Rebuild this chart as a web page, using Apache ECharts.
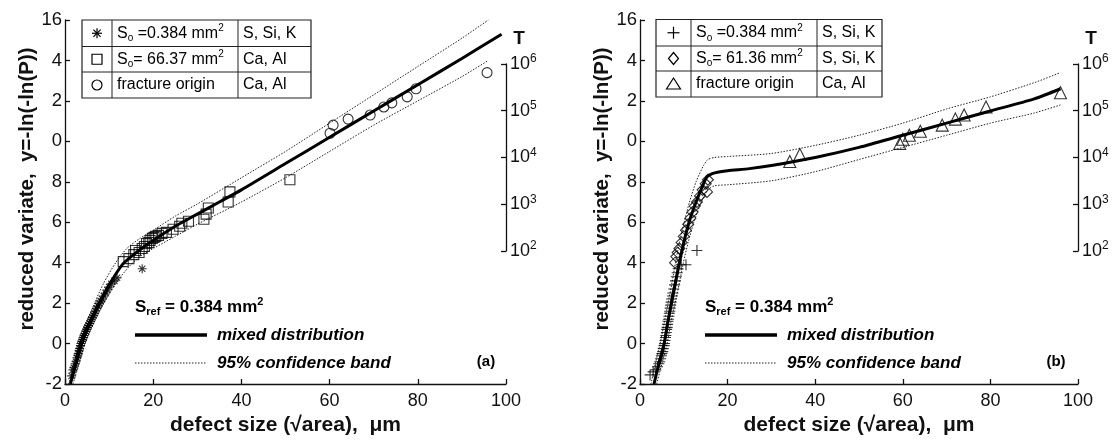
<!DOCTYPE html>
<html><head><meta charset="utf-8">
<script src="https://cdn.jsdelivr.net/npm/echarts@6/dist/echarts.min.js"></script>
<style>html,body{margin:0;padding:0;background:#fff}#c{width:1115px;height:443px}</style>
</head><body><div id="c"></div>
<script>
// ---------- DATA ----------
const yTickValues = [-2, 0, 2, 4, 6, 8, 10, 12, 14, 16];
const yTickLabels = ['-2', '0', '2', '4', '6', '8', '0', '2', '4', '16'];
const xTickValues = [0, 20, 40, 60, 80, 100];

// panel (a)
const aStar = [[1.5,-1.6],[1.8,-1.3],[2.0,-1.2],[2.3,-1.0],[2.5,-0.9],[2.7,-0.7],[2.9,-0.6],[3.0,-0.5],[3.2,-0.35],[3.3,-0.25],[3.5,-0.1],[3.6,0.0],[3.8,0.1],[4.0,0.2],[4.1,0.3],[4.3,0.4],[4.5,0.5],[4.7,0.6],[4.9,0.7],[5.1,0.8],[5.3,0.9],[5.6,1.0],[5.8,1.1],[6.0,1.2],[6.2,1.3],[6.5,1.4],[6.7,1.5],[6.9,1.6],[7.2,1.75],[7.5,1.85],[7.8,2.0],[8.1,2.1],[8.4,2.2],[8.8,2.35],[9.2,2.5],[9.6,2.65],[10.0,2.8],[10.5,2.95],[11.2,3.1],[11.8,3.25],[17.5,3.7]];
const aSquare = [[13.2,4.05],[14.5,4.2],[15.6,4.4],[16.0,4.6],[16.8,4.5],[17.5,4.7],[18.0,4.8],[18.5,4.95],[19.0,5.0],[19.3,5.1],[19.8,5.2],[20.2,5.25],[20.6,5.3],[21.2,5.35],[22.0,5.45],[23.0,5.5],[24.5,5.65],[26.0,5.8],[26.5,5.95],[28.0,6.05],[31.5,6.15],[32.0,6.4],[32.5,6.7],[37.0,7.0],[37.4,7.5],[51.0,8.1]];
const aCircle = [[60.1,10.4],[60.8,10.8],[64.2,11.1],[69.2,11.3],[72.3,11.7],[74.1,11.9],[77.6,12.2],[79.6,12.6],[95.7,13.4]];
const aMixed = [[1.2,-2],[2.5,-1],[3.8,0],[5.6,1],[7.8,2],[10.3,3],[13,3.9],[15,4.3],[18,4.8],[20,5.1],[25,5.8],[30,6.4],[35,7.0],[40,7.6],[50,8.9],[60,10.2],[70,11.5],[80,12.8],[90,14.1],[99,15.3]];
const aUpper = [[0.8,-2],[2,-1.2],[3.2,0],[4.8,1],[6.7,2],[8.8,3],[11.5,4.0],[14,4.7],[17,5.2],[20,5.6],[25,6.3],[30,6.9],[40,8.2],[50,9.5],[60,10.9],[70,12.3],[80,13.7],[90,15.1],[96,16.0]];
const aLower = [[1.8,-2],[3.2,-1],[4.6,0],[6.5,1],[8.8,2],[11.6,3],[14.5,3.8],[17,4.3],[20,4.7],[25,5.3],[30,5.9],[40,7.0],[50,8.2],[60,9.5],[70,10.8],[80,12.0],[90,13.2],[96,14.0]];

// panel (b)
const bPlus = [[2.3,-1.55],[3.0,-1.4],[3.6,-1.3],[4.0,-1.15],[4.3,-1.0],[4.5,-0.9],[4.7,-0.75],[4.9,-0.6],[5.0,-0.5],[5.2,-0.4],[5.3,-0.25],[5.5,-0.1],[5.6,0.0],[5.7,0.15],[5.8,0.3],[5.9,0.4],[6.0,0.55],[6.1,0.7],[6.2,0.8],[6.3,0.95],[6.4,1.1],[6.5,1.2],[6.6,1.35],[6.7,1.5],[6.8,1.6],[6.9,1.75],[7.0,1.9],[7.1,2.05],[7.2,2.2],[7.4,2.35],[7.5,2.5],[7.7,2.7],[7.9,2.9],[8.1,3.1],[8.3,3.3],[8.5,3.5],[8.7,3.7],[9.4,3.9],[10.5,3.9],[13.0,4.6]];
const bDiamond = [[8.0,4.0],[8.3,4.3],[8.6,4.5],[9.0,4.7],[9.5,5.0],[10.0,5.3],[10.5,5.6],[11.0,5.9],[11.5,6.2],[12.0,6.5],[12.5,6.8],[13.0,7.0],[13.7,7.3],[14.3,7.6],[15.0,7.9],[15.5,8.1],[15.3,7.5]];
const bTriangle = [[34.2,9.0],[36.5,9.35],[59.3,9.9],[60.0,10.1],[61.5,10.3],[64.0,10.5],[69.0,10.8],[72.0,11.1],[74.0,11.3],[79.0,11.7],[96.0,12.4]];
const bMixed = [[3.2,-2],[4.3,-1],[5.5,0],[6.3,1],[7.2,2],[8.1,3],[9.0,4],[10.0,5],[11.2,6],[12.8,7],[14.3,7.8],[15.3,8.25],[16.5,8.4],[18,8.48],[20,8.55],[25,8.65],[30,8.8],[40,9.2],[50,9.7],[60,10.3],[70,10.9],[80,11.5],[90,12.1],[96,12.6]];
const bUpper = [[2.5,-2],[3.5,-1],[4.6,0],[5.5,1],[6.4,2],[7.3,3],[8.1,4],[9.0,5],[10.1,6],[11.3,7],[12.8,8],[14.5,8.8],[15.5,9.1],[17,9.2],[20,9.25],[30,9.4],[40,9.8],[50,10.3],[60,10.9],[70,11.6],[80,12.2],[90,12.9],[96,13.4]];
const bLower = [[3.8,-2],[5.0,-1],[6.2,0],[7.0,1],[8.0,2],[9.0,3],[9.9,4],[11,5],[12.3,6],[14,7],[15.5,7.6],[17,7.8],[20,7.85],[30,8.05],[40,8.5],[50,9.1],[60,9.7],[70,10.3],[80,10.9],[90,11.4],[96,11.8]];

const tTickExp = [2, 3, 4, 5, 6];

// ---------- CHART ----------
const FONT = '"Liberation Sans", Arial, sans-serif';
const chart = echarts.init(document.getElementById('c'), null, {renderer: 'canvas'});

const AXC = '#111';
function xAx(gi) {
  return {
    gridIndex: gi, type: 'value', min: 0, max: 100, interval: 20,
    name: 'defect size (\u221Aarea),  \u03BCm', nameLocation: 'middle', nameGap: 31,
    nameTextStyle: {fontFamily: FONT, fontSize: 21, fontWeight: 'bold', color: AXC},
    axisLine: {show: true, onZero: false, lineStyle: {color: AXC, width: 1.3}},
    axisTick: {show: true, inside: true, length: 5, lineStyle: {color: AXC, width: 1.3}},
    axisLabel: {fontFamily: FONT, fontSize: 18, color: AXC, margin: 8},
    splitLine: {show: false}
  };
}
function yAx(gi) {
  return {
    gridIndex: gi, type: 'value', min: -2, max: 16, interval: 2,
    name: 'reduced variate,  y=-ln(-ln(P))', nameLocation: 'middle', nameGap: 23,
    nameTextStyle: {fontFamily: FONT, fontSize: 20.5, fontWeight: 'bold', color: AXC, padding: [0, 0, 0, 26]},
    axisLine: {show: true, onZero: false, lineStyle: {color: AXC, width: 1.3}},
    axisTick: {show: true, inside: true, length: 5, lineStyle: {color: AXC, width: 1.3}},
    axisLabel: {fontFamily: FONT, fontSize: 18.5, color: AXC, margin: 3,
      formatter: v => { const i = yTickValues.indexOf(Math.round(v)); return i >= 0 ? yTickLabels[i] : ''; }},
    splitLine: {show: false}
  };
}
function hiddenX(gi) { return {gridIndex: gi, type: 'value', min: 0, max: 1, show: false}; }
function tAx(gi) {
  return {
    gridIndex: gi, type: 'log', logBase: 10, min: Math.pow(10, tTickExp[0]), max: Math.pow(10, tTickExp[tTickExp.length - 1]),
    position: 'right', name: 'T', nameLocation: 'end', nameGap: 16,
    nameTextStyle: {fontFamily: FONT, fontSize: 19, fontWeight: 'bold', color: AXC, padding: [0, 0, 0, 26]},
    axisLine: {show: true, onZero: false, lineStyle: {color: AXC, width: 1.3}},
    axisTick: {show: true, inside: true, length: 5, lineStyle: {color: AXC, width: 1.3}},
    axisLabel: {margin: 4, formatter: v => '{b|10}{s|' + Math.round(Math.log10(v)) + '}',
      rich: {b: {fontFamily: FONT, fontSize: 18, color: AXC, lineHeight: 22},
             s: {fontFamily: FONT, fontSize: 12, color: AXC, lineHeight: 11, verticalAlign: 'top'}}},
    splitLine: {show: false}
  };
}

const lineSolid = {color: '#000', width: 3};
const lineDot = {color: '#222', width: 1, type: [1.5, 1.5]};
const hollow = {color: 'rgba(0,0,0,0)', borderColor: '#000', borderWidth: 1.1};
const STAR = 'path://M5,0L5,10M0,5L10,5M1.5,1.5L8.5,8.5M8.5,1.5L1.5,8.5';
const PLUS = 'path://M5,0L5,10M0,5L10,5';

function ln(data, xi, style, z) {
  return {type: 'line', xAxisIndex: xi, yAxisIndex: xi, data: data, showSymbol: false, smooth: 0.25,
          lineStyle: style, z: z, silent: true, clip: true};
}
function sc(data, xi, sym, size) {
  return {type: 'scatter', xAxisIndex: xi, yAxisIndex: xi, data: data, symbol: sym, symbolSize: size,
          itemStyle: hollow, z: 3, silent: true};
}

// legend tables & annotations
function richLbl(size, bold) {
  const fw = bold ? 'bold' : 'normal';
  return {
    n: {fontFamily: FONT, fontSize: size, fontWeight: fw, color: '#000', lineHeight: size + 4},
    sub: {fontFamily: FONT, fontSize: Math.round(size * 0.65), fontWeight: fw, color: '#000', lineHeight: 10, verticalAlign: 'bottom'},
    sup: {fontFamily: FONT, fontSize: Math.round(size * 0.65), fontWeight: fw, color: '#000', lineHeight: 10, verticalAlign: 'top'}
  };
}
function legendTable(x0, x1, x2, x3, y0, y1, y2, y3, rows) {
  const st = {stroke: '#222', lineWidth: 1, fill: null};
  const ch = [
    {type: 'rect', shape: {x: x0, y: y0, width: x3 - x0, height: y3 - y0}, style: {stroke: '#222', lineWidth: 1.2, fill: '#fff'}},
    {type: 'line', shape: {x1: x1, y1: y0, x2: x1, y2: y3}, style: st},
    {type: 'line', shape: {x1: x2, y1: y0, x2: x2, y2: y3}, style: st},
    {type: 'line', shape: {x1: x0, y1: y1, x2: x3, y2: y1}, style: st},
    {type: 'line', shape: {x1: x0, y1: y2, x2: x3, y2: y2}, style: st}
  ];
  const ys = [(y0 + y1) / 2, (y1 + y2) / 2, (y2 + y3) / 2];
  const cx = (x0 + x1) / 2;
  rows.forEach((r, i) => {
    const cy = ys[i];
    const s = 5;
    const sym = {stroke: '#000', lineWidth: 1.2, fill: null};
    if (r.sym === 'star') {
      ch.push({type: 'line', shape: {x1: cx - s, y1: cy, x2: cx + s, y2: cy}, style: sym});
      ch.push({type: 'line', shape: {x1: cx, y1: cy - s, x2: cx, y2: cy + s}, style: sym});
      ch.push({type: 'line', shape: {x1: cx - 3.6, y1: cy - 3.6, x2: cx + 3.6, y2: cy + 3.6}, style: sym});
      ch.push({type: 'line', shape: {x1: cx + 3.6, y1: cy - 3.6, x2: cx - 3.6, y2: cy + 3.6}, style: sym});
    } else if (r.sym === 'plus') {
      ch.push({type: 'line', shape: {x1: cx - s - 1, y1: cy, x2: cx + s + 1, y2: cy}, style: sym});
      ch.push({type: 'line', shape: {x1: cx, y1: cy - s - 1, x2: cx, y2: cy + s + 1}, style: sym});
    } else if (r.sym === 'square') {
      ch.push({type: 'rect', shape: {x: cx - 5, y: cy - 5, width: 10, height: 10}, style: sym});
    } else if (r.sym === 'circle') {
      ch.push({type: 'circle', shape: {cx: cx, cy: cy, r: 5}, style: sym});
    } else if (r.sym === 'diamond') {
      ch.push({type: 'polygon', shape: {points: [[cx, cy - 6], [cx + 5, cy], [cx, cy + 6], [cx - 5, cy]]}, style: sym});
    } else if (r.sym === 'triangle') {
      ch.push({type: 'polygon', shape: {points: [[cx, cy - 6], [cx + 7, cy + 5], [cx - 7, cy + 5]]}, style: sym});
    }
    ch.push({type: 'text', x: x1 + 5, y: cy, style: {text: r.t1, rich: richLbl(16, false), verticalAlign: 'middle', align: 'left'}});
    ch.push({type: 'text', x: x2 + 5, y: cy, style: {text: r.t2, rich: richLbl(16, false), verticalAlign: 'middle', align: 'left'}});
  });
  return {type: 'group', children: ch, z: 100};
}
function annot(xs, xt) {
  const bi = {fontFamily: FONT, fontSize: 17, fontWeight: 'bold', fontStyle: 'italic', fill: '#000'};
  return {type: 'group', z: 100, children: [
    {type: 'text', x: xs, y: 307, style: {text: '{n|S}{sub|ref}{n| = 0.384 mm}{sup|2}', rich: richLbl(17, true), verticalAlign: 'middle'}},
    {type: 'line', shape: {x1: xs, y1: 335, x2: xs + 72, y2: 335}, style: {stroke: '#000', lineWidth: 3.5}},
    {type: 'text', x: xt, y: 335, style: Object.assign({text: 'mixed distribution', verticalAlign: 'middle'}, bi)},
    {type: 'line', shape: {x1: xs, y1: 363, x2: xs + 72, y2: 363}, style: {stroke: '#222', lineWidth: 1, lineDash: [1.5, 1.5]}},
    {type: 'text', x: xt, y: 363, style: Object.assign({text: '95% confidence band', verticalAlign: 'middle'}, bi)}
  ]};
}

const option = {
  backgroundColor: '#fff',
  animation: false,
  grid: [
    {left: 65, top: 20, width: 441, height: 364},
    {left: 640, top: 20, width: 438, height: 364},
    {left: 65, top: 64, width: 441, height: 187},
    {left: 640, top: 64, width: 438, height: 187}
  ],
  xAxis: [xAx(0), xAx(1), hiddenX(2), hiddenX(3)],
  yAxis: [yAx(0), yAx(1), tAx(2), tAx(3)],
  series: [
    ln(aUpper, 0, lineDot, 2), ln(aLower, 0, lineDot, 2), ln(aMixed, 0, lineSolid, 4),
    sc(aStar, 0, STAR, 9), sc(aSquare, 0, 'rect', 10), sc(aCircle, 0, 'circle', 10),
    ln(bUpper, 1, lineDot, 2), ln(bLower, 1, lineDot, 2), ln(bMixed, 1, lineSolid, 4),
    sc(bPlus, 1, PLUS, 11), sc(bDiamond, 1, 'diamond', 11), sc(bTriangle, 1, 'triangle', 12)
  ],
  graphic: [
    legendTable(82, 112, 238, 311, 20, 46.5, 72, 98, [
      {sym: 'star', t1: '{n|S}{sub|o}{n| =0.384 mm}{sup|2}', t2: '{n|S, Si, K}'},
      {sym: 'square', t1: '{n|S}{sub|o}{n|= 66.37 mm}{sup|2}', t2: '{n|Ca, Al}'},
      {sym: 'circle', t1: '{n|fracture origin}', t2: '{n|Ca, Al}'}
    ]),
    legendTable(656, 691, 817, 882, 19.5, 46, 71, 97, [
      {sym: 'plus', t1: '{n|S}{sub|o}{n| =0.384 mm}{sup|2}', t2: '{n|S, Si, K}'},
      {sym: 'diamond', t1: '{n|S}{sub|o}{n|= 61.36 mm}{sup|2}', t2: '{n|S, Si, K}'},
      {sym: 'triangle', t1: '{n|fracture origin}', t2: '{n|Ca, Al}'}
    ]),
    annot(135, 217),
    annot(705, 787),
    {type: 'text', x: 486, y: 362, z: 100, style: {text: '(a)', fontFamily: FONT, fontSize: 15, fontWeight: 'bold', fill: '#000', align: 'center', verticalAlign: 'middle'}},
    {type: 'text', x: 1056, y: 362, z: 100, style: {text: '(b)', fontFamily: FONT, fontSize: 15, fontWeight: 'bold', fill: '#000', align: 'center', verticalAlign: 'middle'}}
  ]
};
chart.setOption(option);
</script></body></html>
